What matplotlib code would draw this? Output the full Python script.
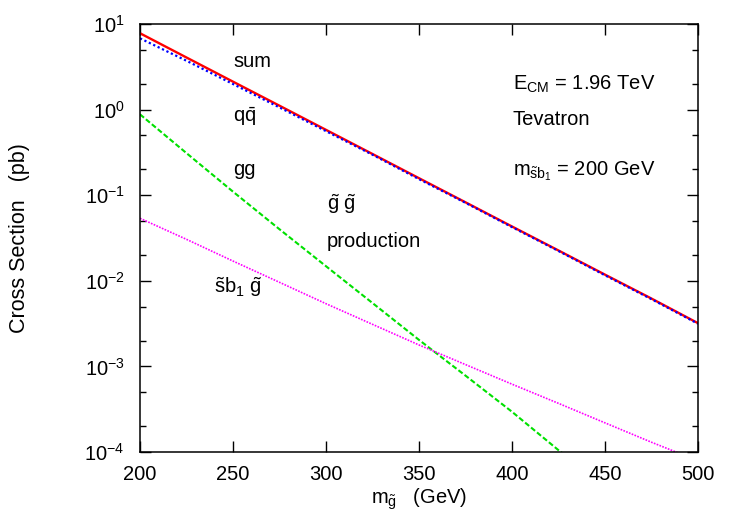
import numpy as np
import matplotlib
matplotlib.use("Agg")
import matplotlib.pyplot as plt
from matplotlib.ticker import FixedLocator, NullLocator

plt.rcParams['font.family'] = ['Liberation Sans', 'DejaVu Sans']
plt.rcParams['mathtext.fontset'] = 'custom'
plt.rcParams['mathtext.rm'] = 'Liberation Sans'
plt.rcParams['mathtext.it'] = 'Liberation Sans'
plt.rcParams['mathtext.bf'] = 'Liberation Sans:bold'

# gluino mass (GeV)
mass = [200, 225, 250, 275, 300, 325, 350, 375, 400, 425, 450, 475, 500]
# cross sections (pb)
sigma_sum = [7.8, 4.06, 2.12, 1.11, 0.58, 0.303, 0.158, 0.0826, 0.0431,
             0.0226, 0.0118, 0.0062, 0.0032]
sigma_qq = [6.8, 3.72, 1.99, 1.06, 0.56, 0.297, 0.154, 0.0815, 0.0424,
            0.0223, 0.0116, 0.0061, 0.00315]
sigma_gg = [0.88, 0.31, 0.110, 0.040, 0.0148, 0.0055, 0.00204, 7.8e-4,
            2.95e-4, 1.05e-4, 4.0e-5, 1.5e-5, 5.5e-6]
sigma_sbg = [0.0537, 0.0305, 0.0170, 0.0096, 0.0054, 0.0031, 0.00178,
             0.00105, 6.2e-4, 3.7e-4, 2.19e-4, 1.3e-4, 7.9e-5]

ytick_vals = [1e-4, 1e-3, 1e-2, 1e-1, 1e0, 1e1]
ytick_labels = [r'$\mathregular{10^{-4}}$', r'$\mathregular{10^{-3}}$',
                r'$\mathregular{10^{-2}}$', r'$\mathregular{10^{-1}}$',
                r'$\mathregular{10^{0}}$', r'$\mathregular{10^{1}}$']
xtick_vals = [200, 250, 300, 350, 400, 450, 500]

fig = plt.figure(figsize=(7.34, 5.14), dpi=100)
ax = fig.add_axes([140 / 734, 1 - 452 / 514, 558 / 734, 428 / 514])

ax.plot(mass, sigma_sum, color='#ff0000', lw=1.7, solid_capstyle='butt')
ax.plot(mass, sigma_qq, color='#0000ff', lw=1.6, linestyle=(0, (1, 1.2)))
ax.plot(mass, sigma_gg, color='#00e000', lw=1.5, linestyle=(0, (2.5, 1.2)))
ax.plot(mass, sigma_sbg, color='#ff00ff', lw=1.2, linestyle=(0, (1, 0.8)))

ax.set_yscale('log')
ax.set_xlim(200, 500)
ax.set_ylim(1e-4, 10)

ax.xaxis.set_major_locator(FixedLocator(xtick_vals))
ax.xaxis.set_minor_locator(NullLocator())
ax.set_yticks(ytick_vals)
ax.set_yticklabels(ytick_labels)
minor = [m * 10.0 ** e for e in range(-4, 1) for m in (2, 5)]
ax.yaxis.set_minor_locator(FixedLocator(minor))
ax.tick_params(which='both', direction='in', top=True, right=True,
               labelsize=14.5, width=1)
ax.tick_params(which='major', length=8)
ax.tick_params(which='minor', length=4)
ax.tick_params(axis='y', which='major', pad=11)
ax.tick_params(axis='x', which='major', pad=9)
for s in ax.spines.values():
    s.set_linewidth(1.1)

ax.set_xlabel(r'$m_{\tilde{g}}$   (GeV)', fontsize=14.5, labelpad=2)
ax.set_ylabel('Cross Section   (pb)', fontsize=15.5)
ax.yaxis.set_label_coords(-110 / 558, 0.5)

fs = 14.5
ax.text(250, 3.17, 'sum', fontsize=fs, va='baseline')
ax.text(250, 0.723, r'$q\bar{q}$', fontsize=fs, va='baseline')
ax.text(250, 0.172, 'gg', fontsize=fs, va='baseline')
ax.text(300.5, 0.0671, r'$\tilde{g}\ \tilde{g}$', fontsize=fs, va='baseline')
ax.text(300.5, 0.0248, 'production', fontsize=fs, va='baseline')
ax.text(240, 0.0072, r'$\tilde{s}b_1\ \tilde{g}$', fontsize=fs, va='baseline')
ax.text(400.5, 1.69, r'$E_{CM}$ = 1.96 TeV', fontsize=fs, va='baseline')
ax.text(400.5, 0.66, 'Tevatron', fontsize=fs, va='baseline')
ax.text(400.5, 0.172, r'$m_{\tilde{s}b_1}$ = 200 GeV', fontsize=fs, va='baseline')

fig.savefig('out.png', dpi=100)
